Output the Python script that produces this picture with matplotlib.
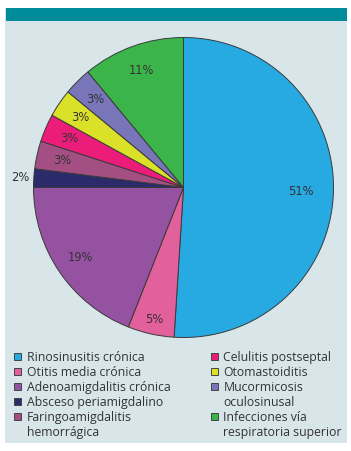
import matplotlib
matplotlib.use("Agg")
import matplotlib.pyplot as plt
from matplotlib.patches import Rectangle
import numpy as np

categories = ["Rinosinusitis crónica", "Otitis media crónica", "Adenoamigdalitis crónica",
              "Absceso periamigdalino", "Faringoamigdalitis hemorrágica", "Celulitis postseptal",
              "Otomastoiditis", "Mucormicosis oculosinusal", "Infecciones vía respiratoria superior"]
# legend text split into printed lines (first line beside the swatch)
legend_lines = [["Rinosinusitis crónica"], ["Otitis media crónica"], ["Adenoamigdalitis crónica"],
                ["Absceso periamigdalino"], ["Faringoamigdalitis", "hemorrágica"],
                ["Celulitis postseptal"], ["Otomastoiditis"], ["Mucormicosis", "oculosinusal"],
                ["Infecciones vía", "respiratoria superior"]]
values = [51, 5, 19, 2, 3, 3, 3, 3, 11]
colors = ["#26aae1", "#e2609b", "#9552a1", "#2b2a6a", "#a44f84", "#ec1d7a",
          "#dbe028", "#7876b8", "#3bb54a"]

W, H = 351, 451
fig = plt.figure(figsize=(W / 100, H / 100), dpi=100)
fig.patch.set_facecolor("white")

def fx(x): return x / W
def fy(y): return 1 - y / H

# panel and header bar
fig.add_artist(Rectangle((fx(5), fy(443)), fx(347) - fx(5), fy(8) - fy(443),
                         transform=fig.transFigure, facecolor="#d8e6ea", edgecolor="none", zorder=0))
fig.add_artist(Rectangle((fx(6), fy(20.7)), fx(347) - fx(6), fy(8) - fy(20.7),
                         transform=fig.transFigure, facecolor="#008b9a", edgecolor="none", zorder=1))

cx, cy, r = 183.5, 187.5, 150
ax = fig.add_axes([fx(cx - r), fy(cy + r), 2 * r / W, 2 * r / H])
ax.set_facecolor("none")
wedges, texts, autotexts = ax.pie(values, colors=colors, startangle=90, counterclock=False,
                                  autopct=lambda p: f"{p:.0f}%", pctdistance=0.83,
                                  wedgeprops=dict(edgecolor="#3a3a3a", linewidth=0.7),
                                  textprops=dict(fontsize=8.3, color="#333333", family="DejaVu Sans"))
for w, t, v in zip(wedges, autotexts, values):
    ang = np.deg2rad((w.theta1 + w.theta2) / 2)
    if v < 3:
        d = 1.09
    elif v > 40:
        d = 0.78
    elif v == 5:
        d = 0.9
    else:
        d = None
    if d is not None:
        t.set_position((d * np.cos(ang), d * np.sin(ang)))
ax.set_xlim(-1, 1)
ax.set_ylim(-1, 1)
ax.set_aspect("auto")

# build legend entries: swatch on first line, blank handle for continuation lines
left_h, left_l, right_h, right_l = [], [], [], []
for i, (lines, c) in enumerate(zip(legend_lines, colors)):
    hs = left_h if i < 5 else right_h
    ls = left_l if i < 5 else right_l
    hs.append(Rectangle((0, 0), 1, 1, facecolor=c, edgecolor="#444444", linewidth=0.7))
    ls.append(lines[0])
    for extra in lines[1:]:
        hs.append(Rectangle((0, 0), 1, 1, facecolor="none", edgecolor="none"))
        ls.append(extra)

leg = fig.legend(left_h + right_h, left_l + right_l, ncol=2, loc="upper left",
                 bbox_to_anchor=(fx(14), fy(351)), frameon=False,
                 prop=dict(family="Open Sans", size=8.8), labelcolor="#333333",
                 handlelength=0.56, handleheight=0.56, handletextpad=0.47,
                 labelspacing=0.16, columnspacing=3.3, borderpad=0, borderaxespad=0)

fig.savefig("out.png", dpi=100, facecolor="white")
